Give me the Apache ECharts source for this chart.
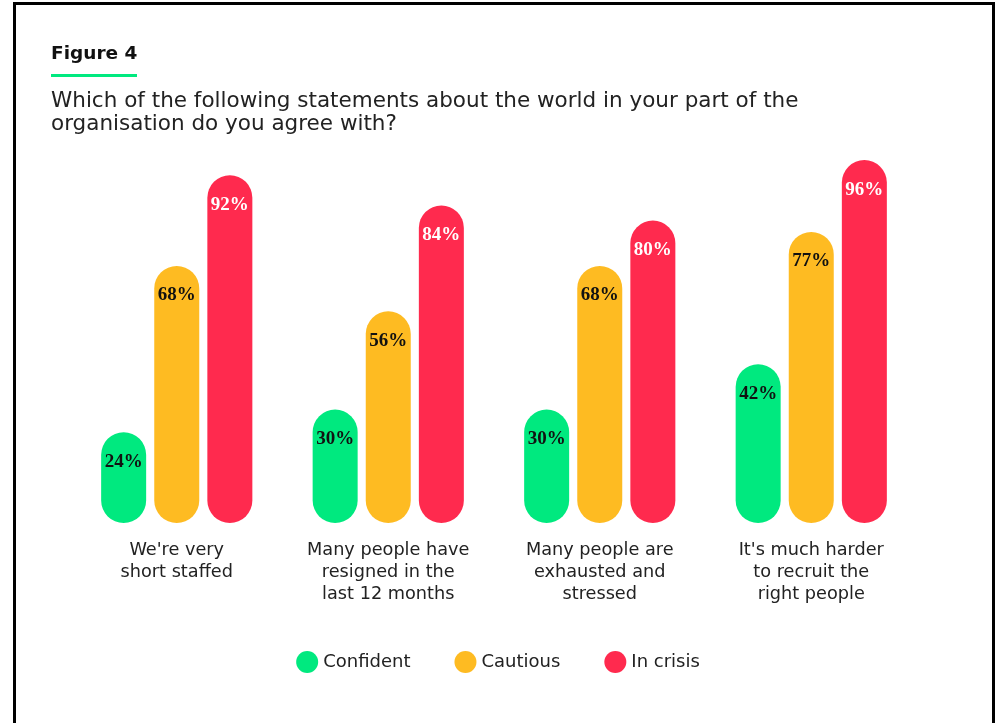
<!DOCTYPE html>
<html>
<head>
<meta charset="utf-8">
<script src="https://cdn.jsdelivr.net/npm/echarts@6/dist/echarts.min.js"></script>
<style>
html,body{margin:0;padding:0;background:#fff;}
#chart{width:996px;height:723px;}
</style>
</head>
<body>
<div id="chart"></div>
<script>
const categories = ["We're very\nshort staffed", "Many people have\nresigned in the\nlast 12 months", "Many people are\nexhausted and\nstressed", "It's much harder\nto recruit the\nright people"];
const seriesNames = ["Confident", "Cautious", "In crisis"];
const confident = [24, 30, 30, 42];
const cautious = [68, 56, 68, 77];
const inCrisis = [92, 84, 80, 96];

const colors = ['#00E97F', '#FEBB22', '#FF2A4E'];
const labelColors = ['#111', '#111', '#fff'];
const sans = '"DejaVu Sans", sans-serif';

const chart = echarts.init(document.getElementById('chart'), null, {renderer: 'canvas'});

function mk(name, data, i) {
  return {
    name: name,
    type: 'bar',
    data: data,
    barWidth: 45,
    barGap: '18%',
    itemStyle: {color: colors[i], borderRadius: 23},
    label: {
      show: true,
      position: 'insideTop',
      distance: 20,
      formatter: '{c}%',
      color: labelColors[i],
      fontFamily: '"Liberation Serif", serif',
      fontWeight: 'bold',
      fontSize: 19
    }
  };
}

chart.setOption({
  backgroundColor: '#fff',
  animation: false,
  title: [
    {text: 'Figure 4', left: 46, top: 40, textStyle: {fontFamily: sans, fontWeight: 'bold', fontSize: 18.5, color: '#111'}},
    {text: 'Which of the following statements about the world in your part of the\norganisation do you agree with?', left: 46, top: 85,
     textStyle: {fontFamily: sans, fontWeight: 'normal', fontSize: 21.5, lineHeight: 23, color: '#222'}}
  ],
  graphic: [
    {type: 'rect', shape: {x: 14.5, y: 3.5, width: 979, height: 760}, style: {fill: null, stroke: '#000', lineWidth: 3}},
    {type: 'rect', shape: {x: 51, y: 74, width: 86, height: 3}, style: {fill: '#00E97F'}}
  ],
  legend: {
    data: seriesNames,
    left: 'center',
    top: 646,
    icon: 'circle',
    itemWidth: 22,
    itemHeight: 22,
    itemGap: 44,
    textStyle: {fontFamily: sans, fontSize: 18, color: '#222'}
  },
  grid: {left: 71, right: 79, top: 145, bottom: 200, containLabel: false},
  xAxis: {
    type: 'category',
    data: categories,
    axisLine: {show: false},
    axisTick: {show: false},
    axisLabel: {margin: 16, fontFamily: sans, fontSize: 17.7, lineHeight: 22, color: '#222', interval: 0}
  },
  yAxis: {type: 'value', min: 0, max: 100, show: false, splitLine: {show: false}},
  series: [mk(seriesNames[0], confident, 0), mk(seriesNames[1], cautious, 1), mk(seriesNames[2], inCrisis, 2)]
});
</script>
</body>
</html>
